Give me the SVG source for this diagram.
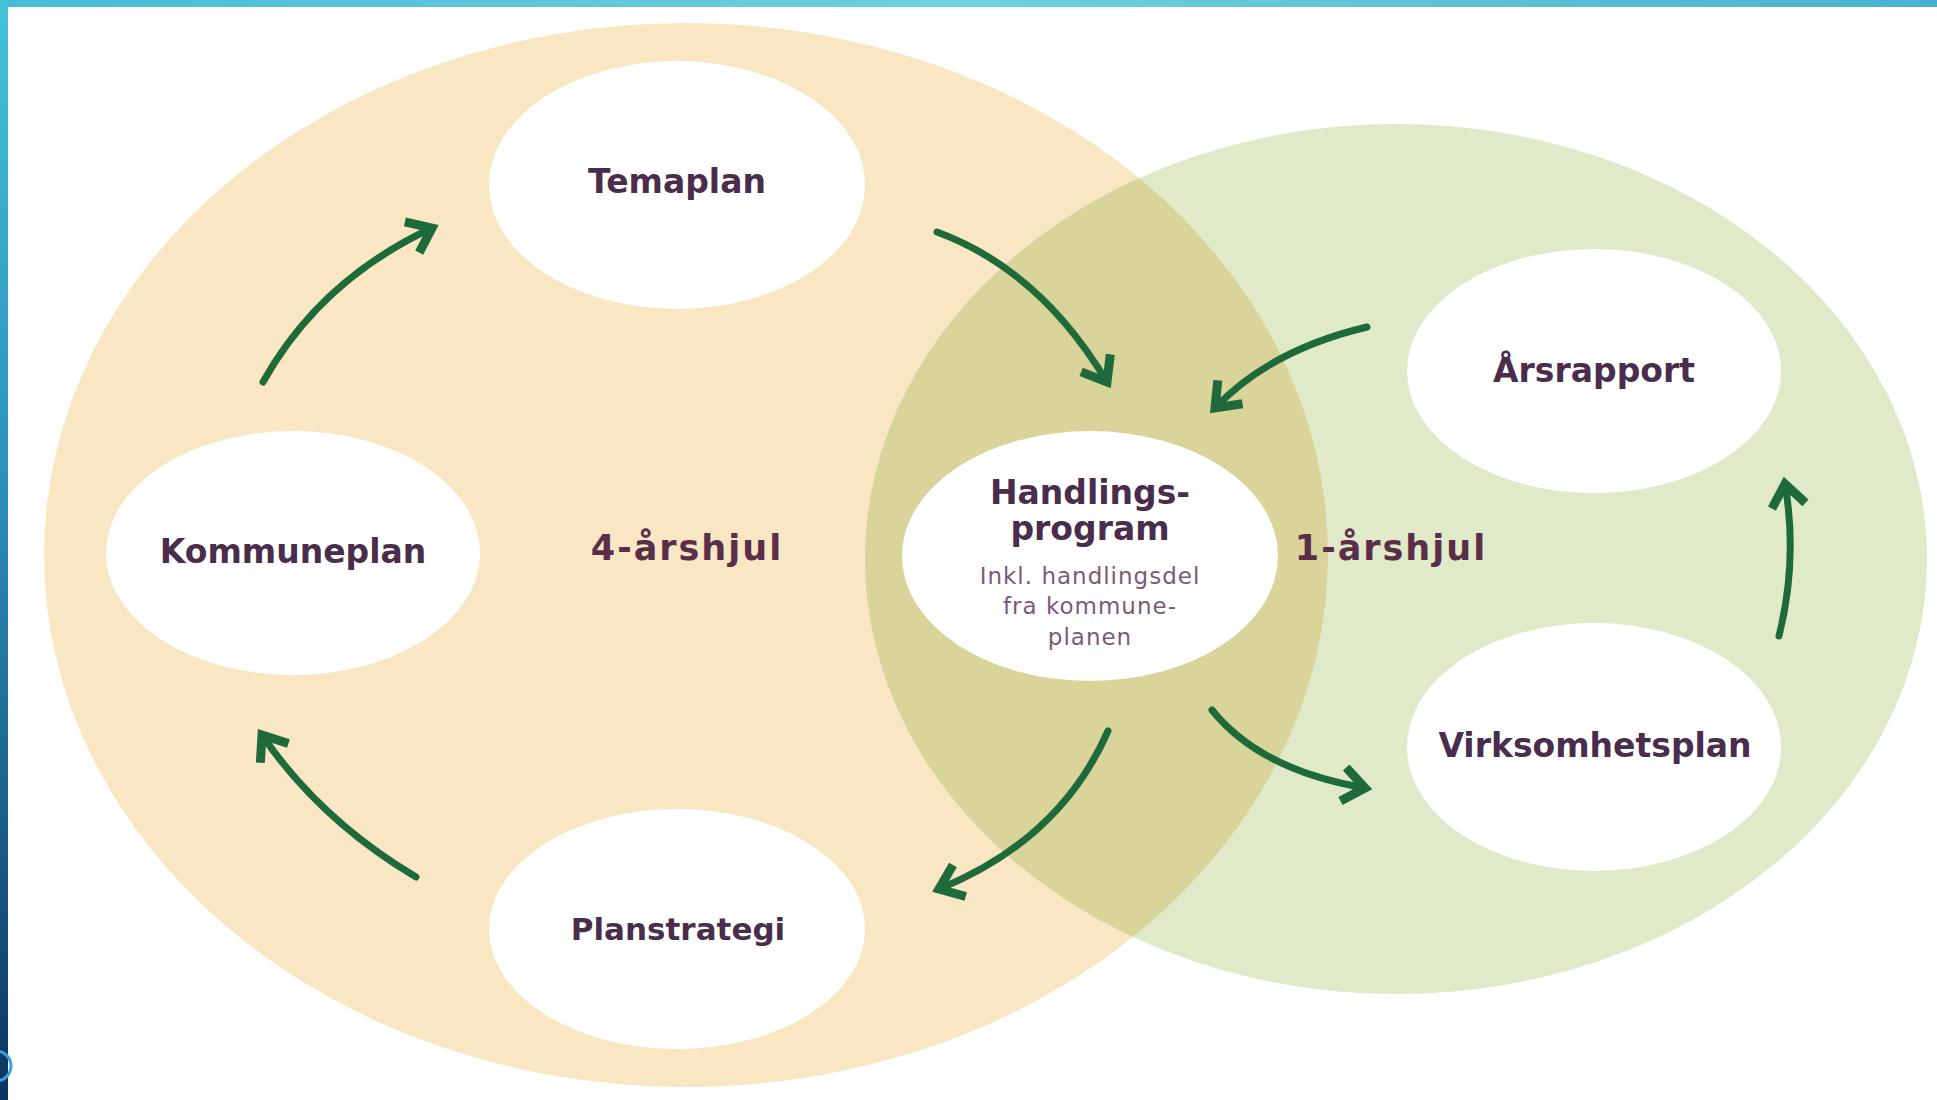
<svg xmlns="http://www.w3.org/2000/svg" width="1937" height="1100" viewBox="0 0 1937 1100">
  <defs>
    <style>
      .node { fill: #ffffff; }
      .lbl { font-family: "DejaVu Sans", "Liberation Sans", sans-serif; font-weight: bold; font-size: 33px; fill: #4a2c4c; text-anchor: middle; }
      .wheel { font-family: "DejaVu Sans", "Liberation Sans", sans-serif; font-weight: bold; font-size: 35px; fill: #5a2e48; text-anchor: middle; letter-spacing: 2px; }
      .small { font-family: "DejaVu Sans", "Liberation Sans", sans-serif; font-size: 23px; fill: #7a5a78; text-anchor: middle; letter-spacing: 1px; }
      .conn { fill: none; stroke: #1f6a3a; stroke-width: 7; stroke-linecap: round; marker-end: url(#head); }
    </style>
    <marker id="head" markerUnits="userSpaceOnUse" markerWidth="44" markerHeight="44" viewBox="-32 -22 38 44" refX="0" refY="0" orient="auto">
      <path d="M-22,-17 L0,0 L-22,17" fill="none" stroke="#1f6a3a" stroke-width="9" stroke-linejoin="miter" stroke-linecap="butt"/>
    </marker>
    <linearGradient id="topbar" x1="0" y1="0" x2="1" y2="0">
      <stop offset="0" stop-color="#45bcd8"/>
      <stop offset="0.5" stop-color="#72cfe0"/>
      <stop offset="1" stop-color="#47b3d0"/>
    </linearGradient>
    <linearGradient id="leftbar" x1="0" y1="0" x2="0" y2="1">
      <stop offset="0" stop-color="#45c2da"/>
      <stop offset="0.45" stop-color="#2a8fb8"/>
      <stop offset="1" stop-color="#0b3560"/>
    </linearGradient>
    <clipPath id="tanClip">
      <ellipse cx="686" cy="555" rx="642" ry="532"/>
    </clipPath>
  </defs>

  <rect x="0" y="0" width="1937" height="1100" fill="#ffffff"/>

  <!-- wheels -->
  <g id="wheel-4">
    <ellipse cx="686" cy="555" rx="642" ry="532" fill="#f9e7c3"/>
  </g>
  <g id="wheel-1">
    <ellipse cx="1396" cy="559" rx="531" ry="435" fill="#e0eac9"/>
    <ellipse cx="1396" cy="559" rx="531" ry="435" fill="#d9d49a" clip-path="url(#tanClip)"/>
  </g>

  <text class="wheel" x="687" y="560">4-årshjul</text>
  <text class="wheel" x="1391" y="560">1-årshjul</text>

  <!-- nodes -->
  <g id="temaplan">
    <ellipse class="node" cx="677" cy="185" rx="188" ry="124"/>
    <text class="lbl" x="677" y="193">Temaplan</text>
  </g>
  <g id="kommuneplan">
    <ellipse class="node" cx="293" cy="553" rx="187" ry="122"/>
    <text class="lbl" x="293" y="563">Kommuneplan</text>
  </g>
  <g id="handlingsprogram">
    <ellipse class="node" cx="1090" cy="556" rx="188" ry="125"/>
    <text class="lbl" x="1090" y="504">Handlings-</text>
    <text class="lbl" x="1090" y="540">program</text>
    <text class="small" x="1090" y="584">Inkl. handlingsdel</text>
    <text class="small" x="1090" y="614">fra kommune-</text>
    <text class="small" x="1090" y="645">planen</text>
  </g>
  <g id="planstrategi">
    <ellipse class="node" cx="677" cy="929" rx="188" ry="120"/>
    <text class="lbl" x="678" y="940" style="font-size:31px">Planstrategi</text>
  </g>
  <g id="arsrapport">
    <ellipse class="node" cx="1594" cy="371" rx="187" ry="122"/>
    <text class="lbl" x="1594" y="382">Årsrapport</text>
  </g>
  <g id="virksomhetsplan">
    <ellipse class="node" cx="1594" cy="747" rx="187" ry="124"/>
    <text class="lbl" x="1595" y="757">Virksomhetsplan</text>
  </g>

  <!-- connectors -->
  <g id="connectors">
    <path class="conn" d="M263,382 Q320,280 432,228"/>
    <path class="conn" d="M937,232 Q1040,270 1107,382"/>
    <path class="conn" d="M1367,327 Q1270,350 1215,408"/>
    <path class="conn" d="M1212,710 Q1260,770 1365,788"/>
    <path class="conn" d="M1108,731 Q1060,840 939,889"/>
    <path class="conn" d="M416,877 Q320,820 262,735"/>
    <path class="conn" d="M1779,636 Q1798,560 1785,484"/>
  </g>

  <!-- frame -->
  <rect x="0" y="0" width="1937" height="7" fill="url(#topbar)"/>
  <rect x="0" y="0" width="8" height="1100" fill="url(#leftbar)"/>
  <circle cx="-4" cy="1066" r="15" fill="none" stroke="#3a9fe0" stroke-width="3"/>
</svg>
